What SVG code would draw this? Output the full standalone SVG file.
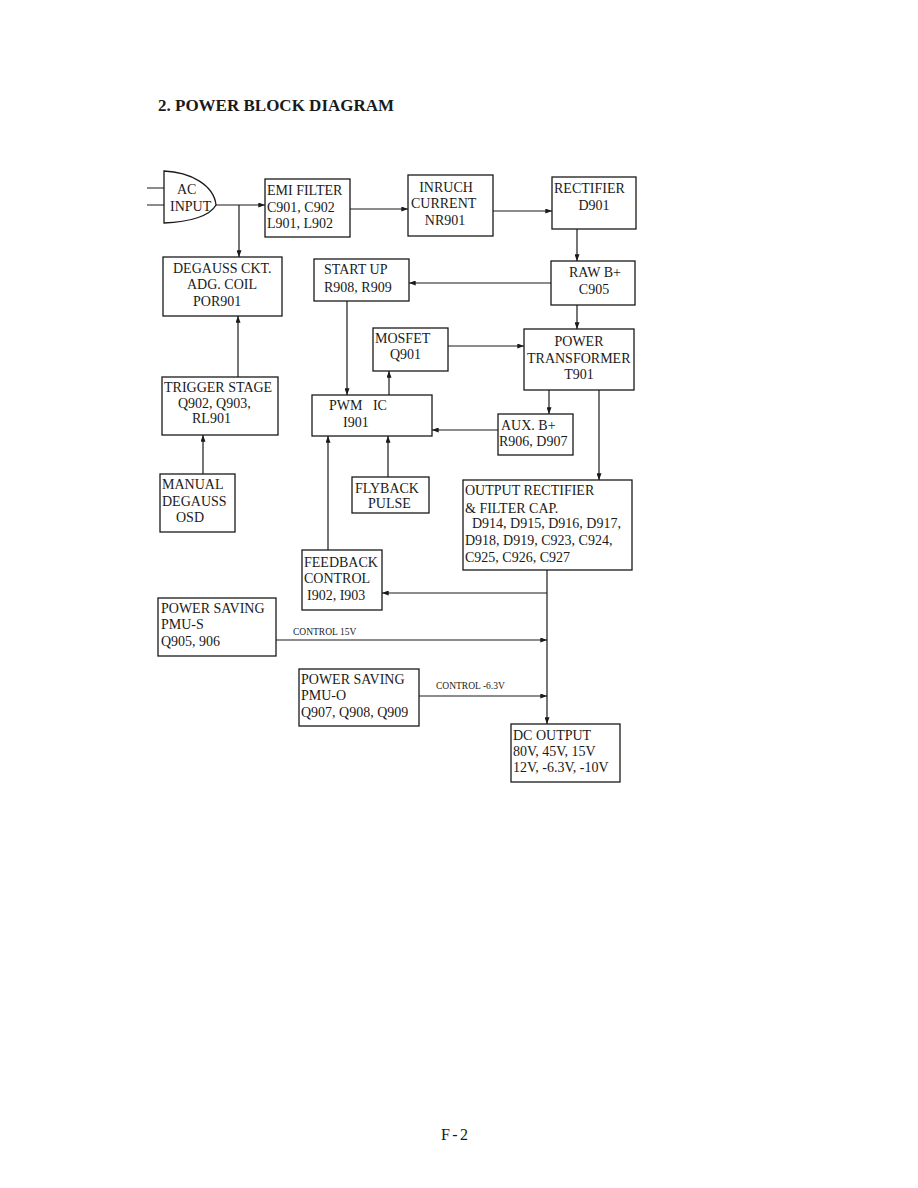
<svg xmlns="http://www.w3.org/2000/svg" width="918" height="1188" viewBox="0 0 918 1188">
<defs>
<marker id="ah" viewBox="0 0 8 6" refX="8" refY="3" markerWidth="7" markerHeight="5" orient="auto" markerUnits="userSpaceOnUse"><path d="M0,0 L8,3 L0,6 z" fill="#1a1a1a"/></marker>
<style>
.box{fill:#fff;stroke:#1a1a1a;stroke-width:1.3}
.t{font-family:"Liberation Serif","Times New Roman",serif;font-size:14px;fill:#1a1a1a}
.c{text-anchor:middle}
.s{font-family:"Liberation Serif","Times New Roman",serif;font-size:9.5px;fill:#1a1a1a}
.ln{fill:none;stroke:#1a1a1a;stroke-width:1.2}
.ar{marker-end:url(#ah)}
</style>
</defs>
<rect width="918" height="1188" fill="#fff"/>
<text x="158" y="111" font-family="'Liberation Serif','Times New Roman',serif" font-size="17" font-weight="bold" fill="#1a1a1a">2. POWER BLOCK DIAGRAM</text>

<g id="connectors">
<path class="ln" d="M147,188 H164 M147,205 H164"/>
<path class="ln ar" d="M216,205 H265"/>
<path class="ln ar" d="M239,205 V257"/>
<path class="ln ar" d="M350,209 H408"/>
<path class="ln ar" d="M493,211 H552"/>
<path class="ln ar" d="M577,229 V261"/>
<path class="ln ar" d="M551,283 H409"/>
<path class="ln ar" d="M577,305 V329"/>
<path class="ln ar" d="M347,301 V395"/>
<path class="ln ar" d="M389,395 V371"/>
<path class="ln ar" d="M448,346 H524"/>
<path class="ln ar" d="M549,390 V414"/>
<path class="ln ar" d="M498,430 H432"/>
<path class="ln ar" d="M599,390 V480"/>
<path class="ln ar" d="M238,377 V316"/>
<path class="ln ar" d="M203,474 V435"/>
<path class="ln ar" d="M388,477 V436"/>
<path class="ln ar" d="M328,550 V436"/>
<path class="ln ar" d="M547,570 V724"/>
<path class="ln ar" d="M547,593 H382"/>
<path class="ln ar" d="M276,640 H547"/>
<path class="ln ar" d="M419,696 H547"/>
<text class="s" x="293" y="635">CONTROL 15V</text>
<text class="s" x="436" y="689">CONTROL -6.3V</text>
</g>

<g id="ac-input">
<path class="box" d="M164,171 C190,172 214,185 216,205 C210,216 190,222 164,223 Z"/>
<text class="t" x="177" y="194">AC</text>
<text class="t" x="170" y="211">INPUT</text>
</g>

<g id="emi-filter">
<rect class="box" x="265" y="179" width="85" height="58"/>
<text class="t" x="267" y="195">EMI FILTER</text>
<text class="t" x="267" y="212">C901, C902</text>
<text class="t" x="267" y="228">L901, L902</text>
</g>

<g id="inruch">
<rect class="box" x="408" y="175" width="85" height="61"/>
<text class="t c" x="446" y="192">INRUCH</text>
<text class="t" x="411" y="208">CURRENT</text>
<text class="t c" x="445" y="225">NR901</text>
</g>

<g id="rectifier">
<rect class="box" x="552" y="177" width="84" height="52"/>
<text class="t" x="554" y="193">RECTIFIER</text>
<text class="t c" x="594" y="210">D901</text>
</g>

<g id="raw-b">
<rect class="box" x="551" y="261" width="84" height="44"/>
<text class="t c" x="595" y="277">RAW B+</text>
<text class="t c" x="594" y="294">C905</text>
</g>

<g id="start-up">
<rect class="box" x="314" y="259" width="95" height="42"/>
<text class="t" x="324" y="274">START UP</text>
<text class="t" x="324" y="292">R908, R909</text>
</g>

<g id="degauss">
<rect class="box" x="163" y="257" width="119" height="59"/>
<text class="t" x="173" y="273">DEGAUSS CKT.</text>
<text class="t" x="187" y="289">ADG. COIL</text>
<text class="t" x="193" y="306">POR901</text>
</g>

<g id="trigger">
<rect class="box" x="162" y="377" width="116" height="58"/>
<text class="t" x="164" y="392">TRIGGER STAGE</text>
<text class="t" x="178" y="408">Q902, Q903,</text>
<text class="t" x="192" y="423">RL901</text>
</g>

<g id="manual">
<rect class="box" x="160" y="474" width="75" height="58"/>
<text class="t" x="162" y="489">MANUAL</text>
<text class="t" x="162" y="506">DEGAUSS</text>
<text class="t" x="176" y="522">OSD</text>
</g>

<g id="mosfet">
<rect class="box" x="373" y="328" width="75" height="43"/>
<text class="t" x="375" y="343">MOSFET</text>
<text class="t" x="390" y="359">Q901</text>
</g>

<g id="pwm">
<rect class="box" x="312" y="395" width="120" height="41"/>
<text class="t" x="329" y="410" xml:space="preserve">PWM   IC</text>
<text class="t" x="343" y="427">I901</text>
</g>

<g id="power-transformer">
<rect class="box" x="524" y="329" width="110" height="61"/>
<text class="t c" x="579" y="346">POWER</text>
<text class="t" x="527" y="363">TRANSFORMER</text>
<text class="t c" x="579" y="379">T901</text>
</g>

<g id="aux-b">
<rect class="box" x="498" y="414" width="75" height="41"/>
<text class="t" x="501" y="430">AUX. B+</text>
<text class="t" x="499" y="446">R906, D907</text>
</g>

<g id="flyback">
<rect class="box" x="352" y="477" width="77" height="36"/>
<text class="t" x="355" y="493">FLYBACK</text>
<text class="t" x="368" y="508">PULSE</text>
</g>

<g id="output-rectifier">
<rect class="box" x="463" y="480" width="169" height="90"/>
<text class="t" x="465" y="495">OUTPUT RECTIFIER</text>
<text class="t" x="465" y="513">&amp; FILTER CAP.</text>
<text class="t" x="472" y="528">D914, D915, D916, D917,</text>
<text class="t" x="465" y="545">D918, D919, C923, C924,</text>
<text class="t" x="465" y="562">C925, C926, C927</text>
</g>

<g id="feedback">
<rect class="box" x="302" y="550" width="80" height="60"/>
<text class="t" x="304" y="567">FEEDBACK</text>
<text class="t" x="304" y="583">CONTROL</text>
<text class="t" x="307" y="600">I902, I903</text>
</g>

<g id="pmu-s">
<rect class="box" x="158" y="598" width="118" height="58"/>
<text class="t" x="161" y="613">POWER SAVING</text>
<text class="t" x="161" y="629">PMU-S</text>
<text class="t" x="161" y="646">Q905, 906</text>
</g>

<g id="pmu-o">
<rect class="box" x="299" y="669" width="120" height="57"/>
<text class="t" x="301" y="684">POWER SAVING</text>
<text class="t" x="301" y="700">PMU-O</text>
<text class="t" x="301" y="717">Q907, Q908, Q909</text>
</g>

<g id="dc-output">
<rect class="box" x="511" y="724" width="109" height="58"/>
<text class="t" x="513" y="740">DC OUTPUT</text>
<text class="t" x="513" y="756">80V, 45V, 15V</text>
<text class="t" x="513" y="772">12V, -6.3V, -10V</text>
</g>

<text x="441" y="1140" font-family="'Liberation Serif','Times New Roman',serif" font-size="16" textLength="27" lengthAdjust="spacing" fill="#1a1a1a">F-2</text>
</svg>
